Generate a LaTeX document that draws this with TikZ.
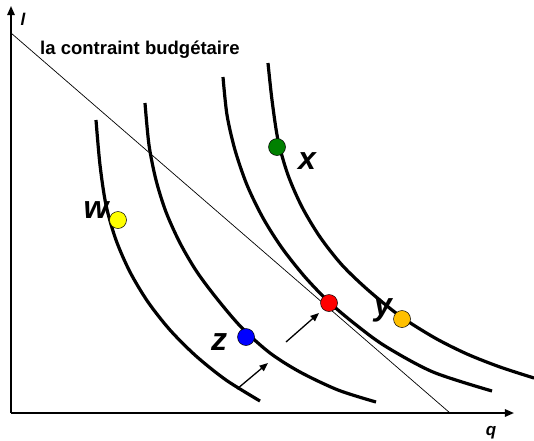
\documentclass[tikz,border=0pt]{standalone}
\usepackage{fontspec}
\setmainfont{Liberation Sans}
\usetikzlibrary{arrows.meta}
\definecolor{ptgreen}{HTML}{008000}
\definecolor{ptyellow}{HTML}{FFFF00}
\definecolor{ptblue}{HTML}{0000FF}
\definecolor{ptred}{HTML}{FF0000}
\definecolor{ptorange}{HTML}{FFC000}
\tikzset{
  axis/.style={-{Triangle[length=3.2mm,width=2.6mm]},line width=1.8pt},
  courbe/.style={line width=3.2pt},
  budget/.style={line width=.7pt},
  panier/.style={circle,draw=black,line width=.5pt,minimum size=17pt,inner sep=0pt},
  lettre/.style={font=\fontsize{32}{32}\selectfont\bfseries\itshape,inner sep=0pt,anchor=base},
  axlabel/.style={font=\fontsize{17}{17}\selectfont\bfseries\itshape,anchor=base,inner sep=0pt},
  deplace/.style={-{Triangle[length=3mm,width=2.4mm]},line width=1.3pt}
}

\begin{document}
\begin{tikzpicture}[x=1pt,y=-1pt]
  \useasboundingbox (0,0) rectangle (534,440);
  % axes
  \coordinate (o) at (11,413);
  \coordinate (ltop) at (11,6);
  \coordinate (qend) at (514,413);
  \draw[axis] (o) -- (ltop);
  \draw[axis] (o) -- (qend);
  \node[axlabel] (lab-l) at (23,25) {l};
  \node[axlabel] (lab-q) at (491,435) {q};
  % budget line
  \coordinate (b1) at (11,33);
  \coordinate (b2) at (450,413);
  \draw[budget] (b1) -- (b2);
  \node[font=\fontsize{18.5}{18.5}\selectfont\bfseries,anchor=base west,inner sep=0pt] (lab-budget) at (40,54) {la contraint budgétaire};
  % indifference curves
  \draw[courbe] plot[smooth] coordinates {(96,120) (100,165) (106,205) (116,240) (130,272) (148,302) (170,330) (196,356) (226,380) (260,401)};
  \draw[courbe] plot[smooth] coordinates {(145,103) (149,145) (156,180) (166,212) (180,243) (197,272) (218,300) (242,328) (270,353) (300,372) (338,390) (376,402)};
  \draw[courbe] plot[smooth] coordinates {(223,77) (227,115) (235,150) (247,185) (263,218) (282,248) (305,277) (329,302) (355,324) (385,346) (433,372) (492,391)};
  \draw[courbe] plot[smooth] coordinates {(268,63) (272,100) (278,140) (288,175) (302,207) (320,237) (342,265) (368,290) (400,316) (435,338) (467,354) (500,367) (534,378)};
  % bundles
  \node[panier,fill=ptgreen] (x) at (277,147) {};
  \node[panier,fill=ptyellow] (w) at (118,220) {};
  \node[panier,fill=ptblue] (z) at (246,337) {};
  \node[panier,fill=ptred] (r) at (329,303) {};
  \node[panier,fill=ptorange] (y) at (402,319) {};
  \node[lettre] (lab-x) at (307,169) {x};
  \node[lettre] (lab-w) at (96,218) {w};
  \node[lettre] (lab-z) at (219,350) {z};
  \node[lettre] (lab-y) at (383,315) {y};
  % shifts
  \coordinate (s1a) at (237,389);
  \coordinate (s1b) at (268,363);
  \coordinate (s2a) at (286,342);
  \coordinate (s2b) at (319,313);
  \draw[deplace] (s1a) -- (s1b);
  \draw[deplace] (s2a) -- (s2b);
\end{tikzpicture}
\end{document}
